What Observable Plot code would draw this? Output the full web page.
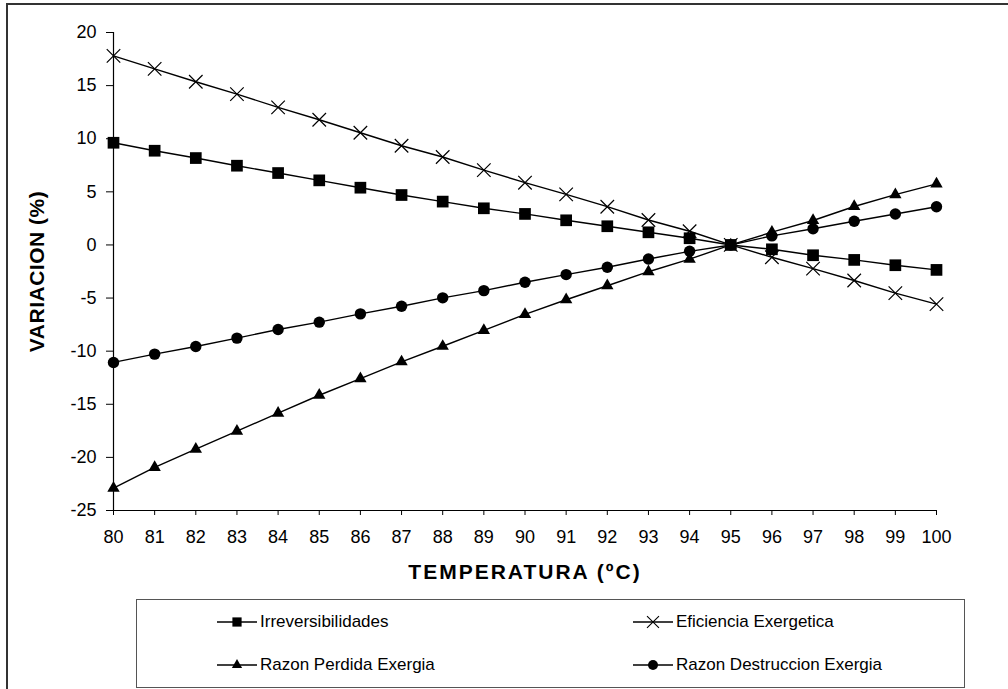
<!DOCTYPE html>
<html>
<head>
<meta charset="utf-8">
<script src="https://cdn.jsdelivr.net/npm/d3@7"></script>
<script src="https://cdn.jsdelivr.net/npm/@observablehq/plot@0.6"></script>
<style>
  html, body { margin: 0; padding: 0; background: #fff; }
  #page { position: relative; width: 1008px; height: 689px; overflow: hidden; font-family: "Liberation Sans", Arial, sans-serif; }
  #frame { position: absolute; left: 6px; top: 3px; width: 1200px; height: 900px; border: 2px solid #333; box-sizing: border-box; }
  #chart { position: absolute; left: 0; top: 0; }
  #legend { position: absolute; left: 136px; top: 599px; width: 829px; height: 89px; border: 1px solid #555; box-sizing: border-box; background: #fff; }
  .item { position: absolute; display: flex; align-items: center; font-size: 17px; color: #000; height: 20px; }
  .item svg { margin-right: 3px; }
</style>
</head>
<body>
<div id="page">
  <div id="frame"></div>
  <div id="chart"></div>
  <div id="legend"></div>
</div>
<script>
const temps = [80, 81, 82, 83, 84, 85, 86, 87, 88, 89, 90, 91, 92, 93, 94, 95, 96, 97, 98, 99, 100];
const irreversibilidades = [9.62, 8.87, 8.18, 7.46, 6.77, 6.08, 5.39, 4.70, 4.08, 3.45, 2.92, 2.32, 1.76, 1.19, 0.63, 0, -0.41, -0.97, -1.41, -1.91, -2.35];
const eficiencia = [17.8, 16.58, 15.36, 14.2, 12.95, 11.79, 10.56, 9.34, 8.28, 7.05, 5.86, 4.76, 3.6, 2.35, 1.29, 0, -1.16, -2.23, -3.35, -4.54, -5.57];
const perdida = [-22.9, -20.95, -19.22, -17.53, -15.84, -14.15, -12.58, -11.0, -9.54, -8.04, -6.54, -5.16, -3.84, -2.52, -1.34, 0, 1.2, 2.3, 3.62, 4.74, 5.75];
const destruccion = [-11.06, -10.28, -9.56, -8.77, -7.96, -7.27, -6.49, -5.77, -4.98, -4.3, -3.51, -2.79, -2.1, -1.32, -0.6, 0, 0.85, 1.53, 2.23, 2.91, 3.6];
const seriesNames = ["Irreversibilidades", "Eficiencia Exergetica", "Razon Perdida Exergia", "Razon Destruccion Exergia"];
const yTicks = [-25, -20, -15, -10, -5, 0, 5, 10, 15, 20];
const xLabel = "TEMPERATURA (ºC)";
const yLabel = "VARIACION (%)";

const seriesValues = [irreversibilidades, eficiencia, perdida, destruccion];
const symbols = ["square", "times", "triangle", "circle"];
const radii = [6.6, 6.2, 4.6, 5.7];

const data = [];
seriesNames.forEach((name, i) => {
  temps.forEach((t, j) => data.push({serie: name, t, v: seriesValues[i][j]}));
});

const marks = [
  Plot.axisY({ticks: yTicks, tickSize: 7, tickPadding: 10, fontSize: 18, label: null, stroke: "#000", tickFormat: d => String(d)}),
  Plot.axisX({ticks: temps, tickSize: 5, tickPadding: 15, fontSize: 18, label: null, tickFormat: d => String(d)}),
  Plot.ruleX([80], {stroke: "#000", strokeWidth: 1.2}),
  Plot.ruleY([-25], {stroke: "#000", strokeWidth: 1.2}),
  Plot.line(data, {x: "t", y: "v", z: "serie", stroke: "#000", strokeWidth: 1.4})
];
seriesNames.forEach((name, i) => {
  const rows = data.filter(d => d.serie === name);
  if (symbols[i] === "times") {
    marks.push(Plot.dot(rows, {x: "t", y: "v", symbol: "times", r: radii[i], stroke: "#000", strokeWidth: 1.2, fill: "none"}));
  } else {
    marks.push(Plot.dot(rows, {x: "t", y: "v", symbol: symbols[i], r: radii[i], fill: "#000", stroke: "none"}));
  }
});
marks.push(Plot.text([xLabel], {frameAnchor: "bottom", dy: 62, fontSize: 21, fontWeight: "bold", fill: "#000", lineAnchor: "middle", textAnchor: "middle", text: d => d}));
marks.push(Plot.text([yLabel], {frameAnchor: "left", dx: -76, rotate: -90, fontSize: 21, fontWeight: "bold", fill: "#000", lineAnchor: "middle", textAnchor: "middle", text: d => d}));

const chart = Plot.plot({
  width: 1008,
  height: 596,
  marginLeft: 113,
  marginRight: 72,
  marginTop: 32,
  marginBottom: 86,
  style: {fontFamily: "'Liberation Sans', Arial, sans-serif", background: "transparent", color: "#000"},
  x: {type: "linear", domain: [80, 100]},
  y: {domain: [-25, 20]},
  marks
});
chart.querySelectorAll("text").forEach(t => {
  if (t.textContent === xLabel) { t.setAttribute("letter-spacing", "2"); t.setAttribute("text-anchor", "middle"); }
  else if (t.textContent === yLabel) { t.setAttribute("text-anchor", "middle"); t.setAttribute("letter-spacing", "0.5"); }
  else if (/^-?\d+$/.test(t.textContent)) { t.setAttribute("font-size", "18"); }
});
document.getElementById("chart").appendChild(chart);

// legend
const legend = document.getElementById("legend");
const positions = [[80, 12], [496, 12], [80, 55], [496, 55]];
seriesNames.forEach((name, i) => {
  const div = document.createElement("div");
  div.className = "item";
  div.style.left = positions[i][0] + "px";
  div.style.top = positions[i][1] + "px";
  const sw = d3.create("svg").attr("width", 40).attr("height", 20);
  sw.append("line").attr("x1", 0).attr("x2", 40).attr("y1", 10).attr("y2", 10).attr("stroke", "#000").attr("stroke-width", 1.3);
  const sym = {square: d3.symbolSquare, times: d3.symbolTimes, triangle: d3.symbolTriangle, circle: d3.symbolCircle}[symbols[i]];
  const r = symbols[i] === "square" ? 5.2 : symbols[i] === "circle" ? 5 : symbols[i] === "triangle" ? 3.8 : 5.5;
  const p = sw.append("path").attr("transform", "translate(20,10)").attr("d", d3.symbol(sym, Math.PI * r * r)());
  if (symbols[i] === "times") p.attr("fill", "none").attr("stroke", "#000").attr("stroke-width", 1.1);
  else p.attr("fill", "#000");
  div.appendChild(sw.node());
  const span = document.createElement("span");
  span.textContent = name;
  div.appendChild(span);
  legend.appendChild(div);
});
</script>
</body>
</html>
